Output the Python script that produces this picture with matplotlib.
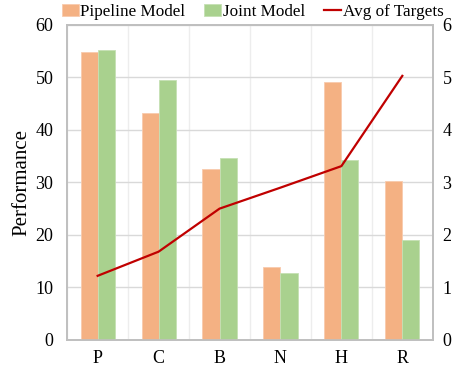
import numpy as np
import matplotlib.pyplot as plt
from matplotlib.ticker import MultipleLocator

# Chart data
categories = ['P', 'C', 'B', 'N', 'H', 'R']
pipeline = [54.8, 43.2, 32.5, 13.8, 49.2, 30.2]
joint = [55.3, 49.5, 34.7, 12.8, 34.3, 19.0]
avg_targets = [1.22, 1.68, 2.50, 2.90, 3.31, 5.03]

plt.rcParams['font.family'] = ['Liberation Serif', 'DejaVu Serif']
plt.rcParams['font.size'] = 12

fig = plt.figure(figsize=(4.57, 3.67), dpi=100)
ax = fig.add_axes([0.147, 0.074, 0.8, 0.858])
ax2 = ax.twinx()

x = np.arange(len(categories))
w = 0.28
ax.bar(x - w/2, pipeline, w, color='#F4B183', edgecolor='#F8CBAD', linewidth=0.6,
       label='Pipeline Model', zorder=3)
ax.bar(x + w/2, joint, w, color='#A9D18E', edgecolor='#C5E0B4', linewidth=0.6,
       label='Joint Model', zorder=3)
ax2.plot(x, avg_targets, color='#C00000', linewidth=1.6, label='Avg of Targets')

ax.set_xlim(-0.5, len(categories) - 0.5)
ax.set_ylim(0, 60)
ax2.set_ylim(0, 6)
ax.set_xticks(x)
ax.set_xticklabels(categories)
ax.xaxis.set_minor_locator(MultipleLocator(0.5))
ax.yaxis.set_major_locator(MultipleLocator(10))
ax2.yaxis.set_major_locator(MultipleLocator(1))
ax.grid(axis='y', color='#D9D9D9', linewidth=1, zorder=0)
ax.grid(axis='x', which='minor', color='#EDEDED', linewidth=1, zorder=0)
ax.set_axisbelow(True)
ax.tick_params(axis='y', which='both', length=0, pad=10, labelsize=13)
ax.tick_params(axis='x', which='both', length=0, pad=7, labelsize=13)
ax2.tick_params(length=0, pad=7, labelsize=13)
ax.set_ylabel('Performance', fontsize=15, labelpad=3)

for a in (ax, ax2):
    for s in a.spines.values():
        s.set_color('#BFBFBF')
        s.set_linewidth(1.2)

h1, l1 = ax.get_legend_handles_labels()
h2, l2 = ax2.get_legend_handles_labels()
fig.legend(h1 + h2, l1 + l2, loc='upper center', bbox_to_anchor=(0.553, 1.03), ncol=3,
           frameon=False, fontsize=12.3, handlelength=1.0, handletextpad=0.1,
           columnspacing=1.1)

fig.savefig('out.png', dpi=100)
